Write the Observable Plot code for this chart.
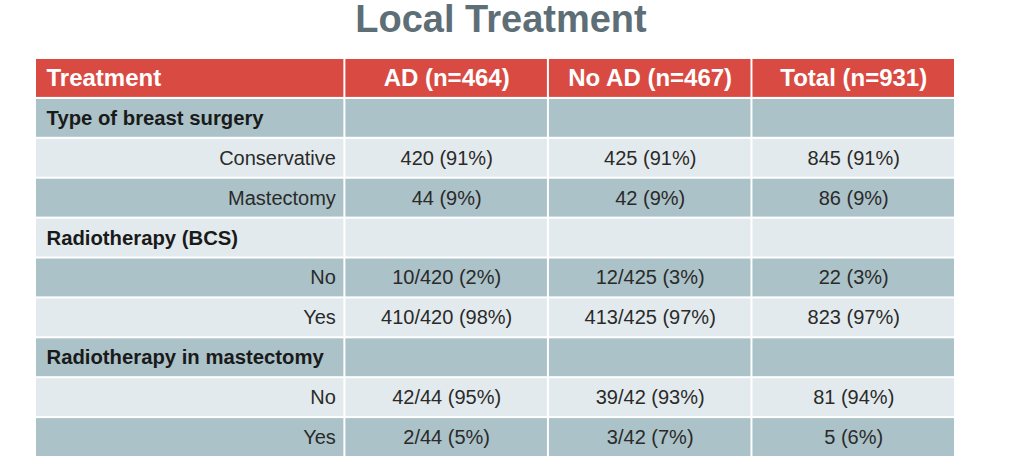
<!DOCTYPE html>
<html>
<head>
<meta charset="utf-8">
<script src="https://cdn.jsdelivr.net/npm/d3@7"></script>
<script src="https://cdn.jsdelivr.net/npm/@observablehq/plot@0.6"></script>
<style>
  html, body { margin: 0; padding: 0; background: #fff; }
  #title {
    height: 55px; margin: 0; width: 1002px; text-align: center;
    font-family: "Liberation Sans", Arial, sans-serif; font-weight: bold;
    font-size: 38px; line-height: 38px; color: #5e6e76;
  }
  #chart svg { display: block; }
</style>
</head>
<body>
<div id="title">Local Treatment</div>
<div id="chart"></div>
<script>
const titleText = "Local Treatment";
const columns = ["Treatment", "AD (n=464)", "No AD (n=467)", "Total (n=931)"];
const rowLabels = ["Type of breast surgery", "Conservative", "Mastectomy", "Radiotherapy (BCS)", "No", "Yes", "Radiotherapy in mastectomy", "No", "Yes"];
const rowIsSection = [true, false, false, true, false, false, true, false, false];
const adValues = ["", "420 (91%)", "44 (9%)", "", "10/420 (2%)", "410/420 (98%)", "", "42/44 (95%)", "2/44 (5%)"];
const noAdValues = ["", "425 (91%)", "42 (9%)", "", "12/425 (3%)", "413/425 (97%)", "", "39/42 (93%)", "3/42 (7%)"];
const totalValues = ["", "845 (91%)", "86 (9%)", "", "22 (3%)", "823 (97%)", "", "81 (94%)", "5 (6%)"];

// layout: relative column widths (first column wider)
const colWidths = [1.52, 1, 1, 1];
const colStart = colWidths.map((w, i) => d3.sum(colWidths.slice(0, i)));
const colEnd = colStart.map((s, i) => s + colWidths[i]);
const nRows = rowLabels.length + 1;

const valueCols = [adValues, noAdValues, totalValues];

// cells
const cells = [];
for (let r = 0; r < nRows; r++) {
  for (let c = 0; c < columns.length; c++) {
    const kind = r === 0 ? "header" : (r % 2 === 1 ? "dark" : "light");
    cells.push({r, c, kind});
  }
}
const fills = {header: "#d94b42", dark: "#abc2c8", light: "#e3eaed"};

// texts
const headerFirst = [{r: 0, c: 0, text: columns[0]}];
const headerRest = columns.slice(1).map((t, i) => ({r: 0, c: i + 1, text: t}));
const sectionTexts = rowLabels.map((t, i) => ({r: i + 1, text: t, section: rowIsSection[i]})).filter(d => d.section);
const subTexts = rowLabels.map((t, i) => ({r: i + 1, text: t, section: rowIsSection[i]})).filter(d => !d.section);
const valueTexts = [];
valueCols.forEach((vals, k) => {
  vals.forEach((v, i) => {
    if (v) valueTexts.push({r: i + 1, c: k + 1, text: v});
  });
});

const font = "Liberation Sans, Arial, sans-serif";
const mid = d => (colStart[d.c] + colEnd[d.c]) / 2;

const chart = Plot.plot({
  width: 1024,
  height: 416,
  margin: 0,
  x: {domain: [0, d3.sum(colWidths)], range: [35, 955], axis: null},
  y: {domain: [0, nRows], range: [3, 402], axis: null},
  style: {fontFamily: font, background: "white"},
  marks: [
    Plot.rect(cells, {
      x1: d => colStart[d.c], x2: d => colEnd[d.c],
      y1: d => d.r, y2: d => d.r + 1,
      fill: d => fills[d.kind],
      insetLeft: 1, insetRight: 1, insetTop: 1, insetBottom: 1
    }),
    Plot.text(headerFirst, {
      x: d => colStart[d.c], y: d => d.r + 0.5, text: "text",
      textAnchor: "start", dx: 11,
      fill: "white", fontSize: 24, fontWeight: "bold"
    }),
    Plot.text(headerRest, {
      x: mid, y: d => d.r + 0.5, text: "text",
      textAnchor: "middle",
      fill: "white", fontSize: 24, fontWeight: "bold"
    }),
    Plot.text(sectionTexts, {
      x: colStart[0], y: d => d.r + 0.5, text: "text",
      textAnchor: "start", dx: 11,
      fill: "#1a1a1a", fontSize: 20.3, fontWeight: "bold"
    }),
    Plot.text(subTexts, {
      x: colEnd[0], y: d => d.r + 0.5, text: "text",
      textAnchor: "end", dx: -9,
      fill: "#2a2a2a", fontSize: 20
    }),
    Plot.text(valueTexts, {
      x: mid, y: d => d.r + 0.5, text: "text",
      textAnchor: "middle",
      fill: "#2a2a2a", fontSize: 20
    })
  ]
});
document.getElementById("chart").appendChild(chart);
</script>
</body>
</html>
